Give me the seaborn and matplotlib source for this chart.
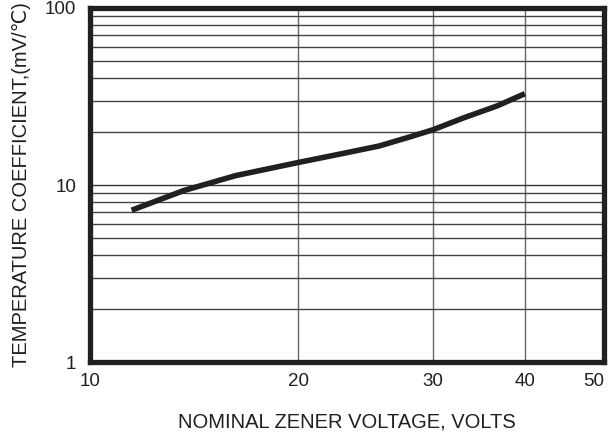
import numpy as np
import pandas as pd
import matplotlib
matplotlib.use("Agg")
import matplotlib.pyplot as plt
import seaborn as sns

# data
voltage = [12.0, 14.5, 17.0, 20.0, 23.0, 26.0, 28.3, 30.0, 33.3, 37.0, 40.0]
temp_coeff = [7.2, 9.3, 11.3, 13.4, 14.9, 16.6, 18.7, 20.5, 23.9, 28.0, 32.8]
x_ticks = [10, 20, 30, 40, 50]
x_tick_pos = [0.0, 0.405, 0.667, 0.846, 1.0]   # axis fraction of each printed x tick
y_ticks = [1, 10, 100]

sns.set_style("white")
plt.rcParams['font.family'] = ['Liberation Sans', 'DejaVu Sans']

df = pd.DataFrame({"V": voltage, "TC": temp_coeff})

fig = plt.figure(figsize=(6.14, 4.36), dpi=100)
ax = fig.add_axes([90/614, 1 - 362/436, (604-90)/614, (362-8)/436])

def fwd(x):
    return np.interp(x, x_ticks, x_tick_pos)

def inv(f):
    return np.interp(f, x_tick_pos, x_ticks)

ax.set_xscale('function', functions=(fwd, inv))
ax.set_yscale('log')
ax.set_xlim(10, 50)
ax.set_ylim(1, 100)

sns.lineplot(data=df, x="V", y="TC", ax=ax, color="#231f20", linewidth=4.0,
             solid_capstyle='butt', zorder=5)

ax.set_xticks(x_ticks)
ax.set_xticklabels([str(t) for t in x_ticks])
ax.set_yticks(y_ticks)
ax.set_yticklabels([str(t) for t in y_ticks])
ax.yaxis.set_minor_locator(matplotlib.ticker.LogLocator(base=10, subs=np.arange(2, 10)))
ax.yaxis.set_minor_formatter(matplotlib.ticker.NullFormatter())

ax.grid(True, which='major', axis='y', color='#333333', linewidth=1.0)
ax.grid(True, which='minor', axis='y', color='#444444', linewidth=1.0)
ax.grid(True, which='major', axis='x', color='#666666', linewidth=1.0)

ax.tick_params(axis='both', which='both', length=0)
ax.tick_params(axis='x', labelsize=13.5, pad=8, colors='#231f20')
ax.tick_params(axis='y', labelsize=13.5, pad=10, colors='#231f20')
xl = ax.get_xticklabels()
xl[-1].set_horizontalalignment('right')

for s in ax.spines.values():
    s.set_visible(True)
    s.set_color('#231f20')
    s.set_linewidth(3.8)
    s.set_zorder(10)

ax.set_xlabel("NOMINAL ZENER VOLTAGE, VOLTS", fontsize=14.5, labelpad=16, color='#231f20')
ax.set_ylabel("TEMPERATURE COEFFICIENT,(mV/℃)", fontsize=14.5, labelpad=10, color='#231f20')

fig.savefig("out.png", dpi=100)
